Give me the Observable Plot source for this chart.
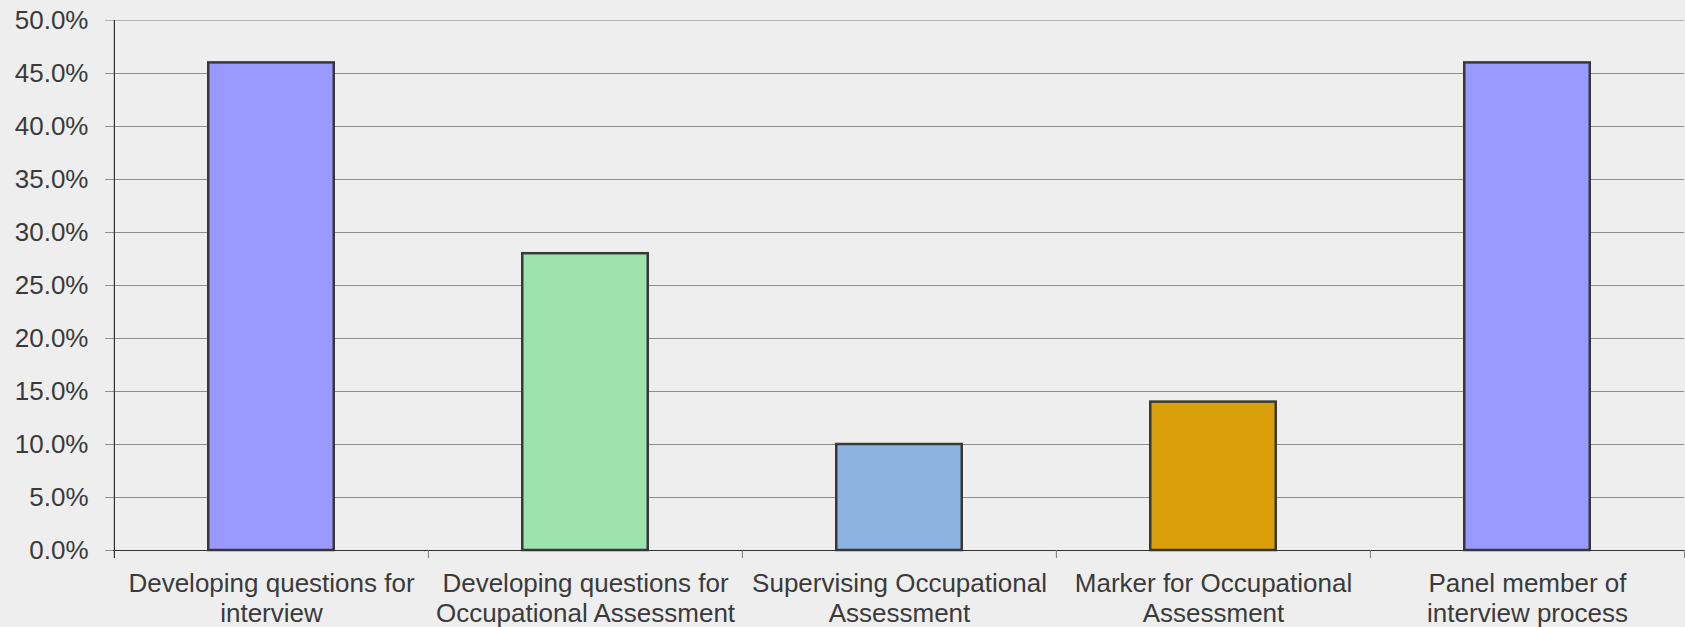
<!DOCTYPE html>
<html>
<head>
<meta charset="utf-8">
<script src="https://cdn.jsdelivr.net/npm/d3@7"></script>
<script src="https://cdn.jsdelivr.net/npm/@observablehq/plot@0.6"></script>
<style>
  html, body { margin: 0; padding: 0; background: #eeeeee; overflow: hidden; }
  svg { display: block; }
</style>
</head>
<body>
<div id="chart"></div>
<script>
const categories = [
  "Developing questions for interview",
  "Developing questions for Occupational Assessment",
  "Supervising Occupational Assessment",
  "Marker for Occupational Assessment",
  "Panel member of interview process"
];
const tickLabels = [
  "Developing questions for\ninterview",
  "Developing questions for\nOccupational Assessment",
  "Supervising Occupational\nAssessment",
  "Marker for Occupational\nAssessment",
  "Panel member of\ninterview process"
];
const values = [46, 28, 10, 14, 46];
const barColors = ["#9999ff", "#9ee3ad", "#8db3e2", "#da9f0a", "#9999ff"];
const yTicks = [0, 5, 10, 15, 20, 25, 30, 35, 40, 45, 50];

const W = 1685, H = 627, ML = 113, MR = 1, MT = 20, MB = 77;
const step = (W - ML - MR) / categories.length;
const data = categories.map((c, i) => ({cat: c, value: values[i], color: barColors[i]}));
const labelOf = new Map(categories.map((c, i) => [c, tickLabels[i]]));

const chart = Plot.plot({
  width: W,
  height: H,
  marginLeft: ML,
  marginRight: MR,
  marginTop: MT,
  marginBottom: MB,
  style: {background: "#eeeeee", fontFamily: "'Liberation Sans', Arial, sans-serif", fontSize: "26px", color: "#3a3a3a"},
  x: {domain: categories, padding: 0, label: null},
  y: {domain: [0, 50], label: null},
  marks: [
    Plot.ruleY(yTicks, {stroke: d => d === 50 ? "#b3b3b3" : "#8f8f8f", strokeWidth: 1.2, insetLeft: -8}),
    Plot.barY(data, {x: "cat", y: "value", fill: "color", stroke: "#383838", strokeWidth: 2.5, insetLeft: step * 0.3, insetRight: step * 0.3}),
    Plot.ruleY([0], {stroke: "#333333", strokeWidth: 1.2}),
    Plot.ruleX([categories[0]], {dx: -step / 2, y1: 50, y2: 0, insetBottom: -8, stroke: "#333333", strokeWidth: 1.2}),
    Plot.ruleX(categories.slice(1), {dx: -step / 2, y1: 0, y2: 0, insetBottom: -8, stroke: "#777777"}),
    Plot.ruleX([categories[categories.length - 1]], {dx: step / 2, y1: 0, y2: 0, insetBottom: -8, stroke: "#777777"}),
    Plot.axisY({ticks: yTicks, tickFormat: d => d.toFixed(1) + "%", tickSize: 0, tickPadding: 25, fontSize: 26}),
    Plot.axisX({tickSize: 0, tickPadding: 20, tickFormat: d => labelOf.get(d), lineHeight: 1.15, fontSize: 26})
  ]
});
document.getElementById("chart").appendChild(chart);
</script>
</body>
</html>
